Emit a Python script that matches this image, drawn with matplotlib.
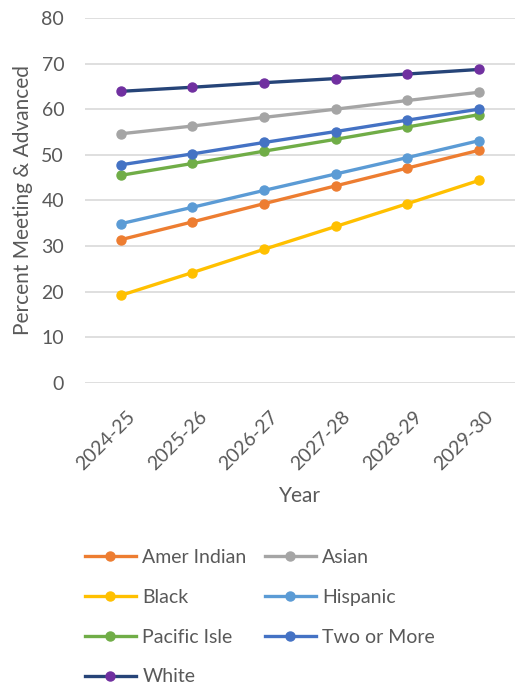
import matplotlib
matplotlib.use("Agg")
import matplotlib.pyplot as plt
import matplotlib.transforms as mtransforms

plt.rcParams['font.family'] = ['Lato', 'DejaVu Sans']

years = ["2024-25", "2025-26", "2026-27", "2027-28", "2028-29", "2029-30"]

amer_indian = [31.4, 35.3, 39.3, 43.2, 47.1, 51.0]
asian = [54.6, 56.3, 58.2, 60.0, 61.9, 63.7]
black = [19.2, 24.2, 29.3, 34.3, 39.3, 44.4]
hispanic = [34.9, 38.5, 42.2, 45.8, 49.4, 53.1]
pacific_isle = [45.5, 48.1, 50.8, 53.4, 56.1, 58.8]
two_or_more = [47.8, 50.2, 52.7, 55.1, 57.6, 60.0]
white = [63.9, 64.8, 65.8, 66.7, 67.7, 68.7]

# name, values, line colour, marker colour
series = [
    ("Amer Indian", amer_indian, "#ED7D31", "#ED7D31"),
    ("Asian", asian, "#A5A5A5", "#A5A5A5"),
    ("Black", black, "#FFC000", "#FFC000"),
    ("Hispanic", hispanic, "#5B9BD5", "#5B9BD5"),
    ("Pacific Isle", pacific_isle, "#70AD47", "#70AD47"),
    ("Two or More", two_or_more, "#4472C4", "#4472C4"),
    ("White", white, "#264478", "#7030A0"),
]

txt = "#595959"

fig = plt.figure(figsize=(5.15, 6.87), dpi=100)
ax = fig.add_axes([0.165, 0.4425, 0.835, 0.5315])

x = list(range(len(years)))
lines = []
for name, vals, lc, mc in series:
    ln, = ax.plot(x, vals, color=lc, lw=2.4, marker="o", ms=6.5,
                  markerfacecolor=mc, markeredgecolor=mc, label=name, zorder=3)
    lines.append(ln)

ax.set_xlim(-0.5, len(years) - 0.5)
ax.set_ylim(0, 80)
ax.set_yticks(range(0, 81, 10))
ax.set_xticks(x)
ax.set_xticklabels(years, rotation=45, ha="right", rotation_mode="anchor")
ax.grid(axis="y", color="#D9D9D9", lw=1.2)
ax.set_axisbelow(True)
for s in ax.spines.values():
    s.set_visible(False)
ax.tick_params(length=0, colors=txt, labelsize=14)
ax.tick_params(axis="y", pad=15)
ax.tick_params(axis="x", pad=18)

# nudge the slanted year labels a little to the right
shift = mtransforms.ScaledTranslation(4 / 72, 0, fig.dpi_scale_trans)
for lab in ax.get_xticklabels():
    lab.set_transform(lab.get_transform() + shift)

ax.set_ylabel("Percent Meeting & Advanced", color=txt, fontsize=15)
ax.yaxis.set_label_coords(-0.12, 0.50)
ax.set_xlabel("Year", color=txt, fontsize=15, labelpad=9)

# row-major order like the original legend
order = [0, 2, 4, 6, 1, 3, 5]
leg = fig.legend([lines[i] for i in order], [series[i][0] for i in order],
                 loc="upper left", bbox_to_anchor=(0.131, 0.226), ncol=2,
                 frameon=False, fontsize=14, handlelength=2.6,
                 columnspacing=0.95, labelspacing=1.17, handletextpad=0.35)
for t in leg.get_texts():
    t.set_color(txt)

fig.savefig("out.png", dpi=100)
